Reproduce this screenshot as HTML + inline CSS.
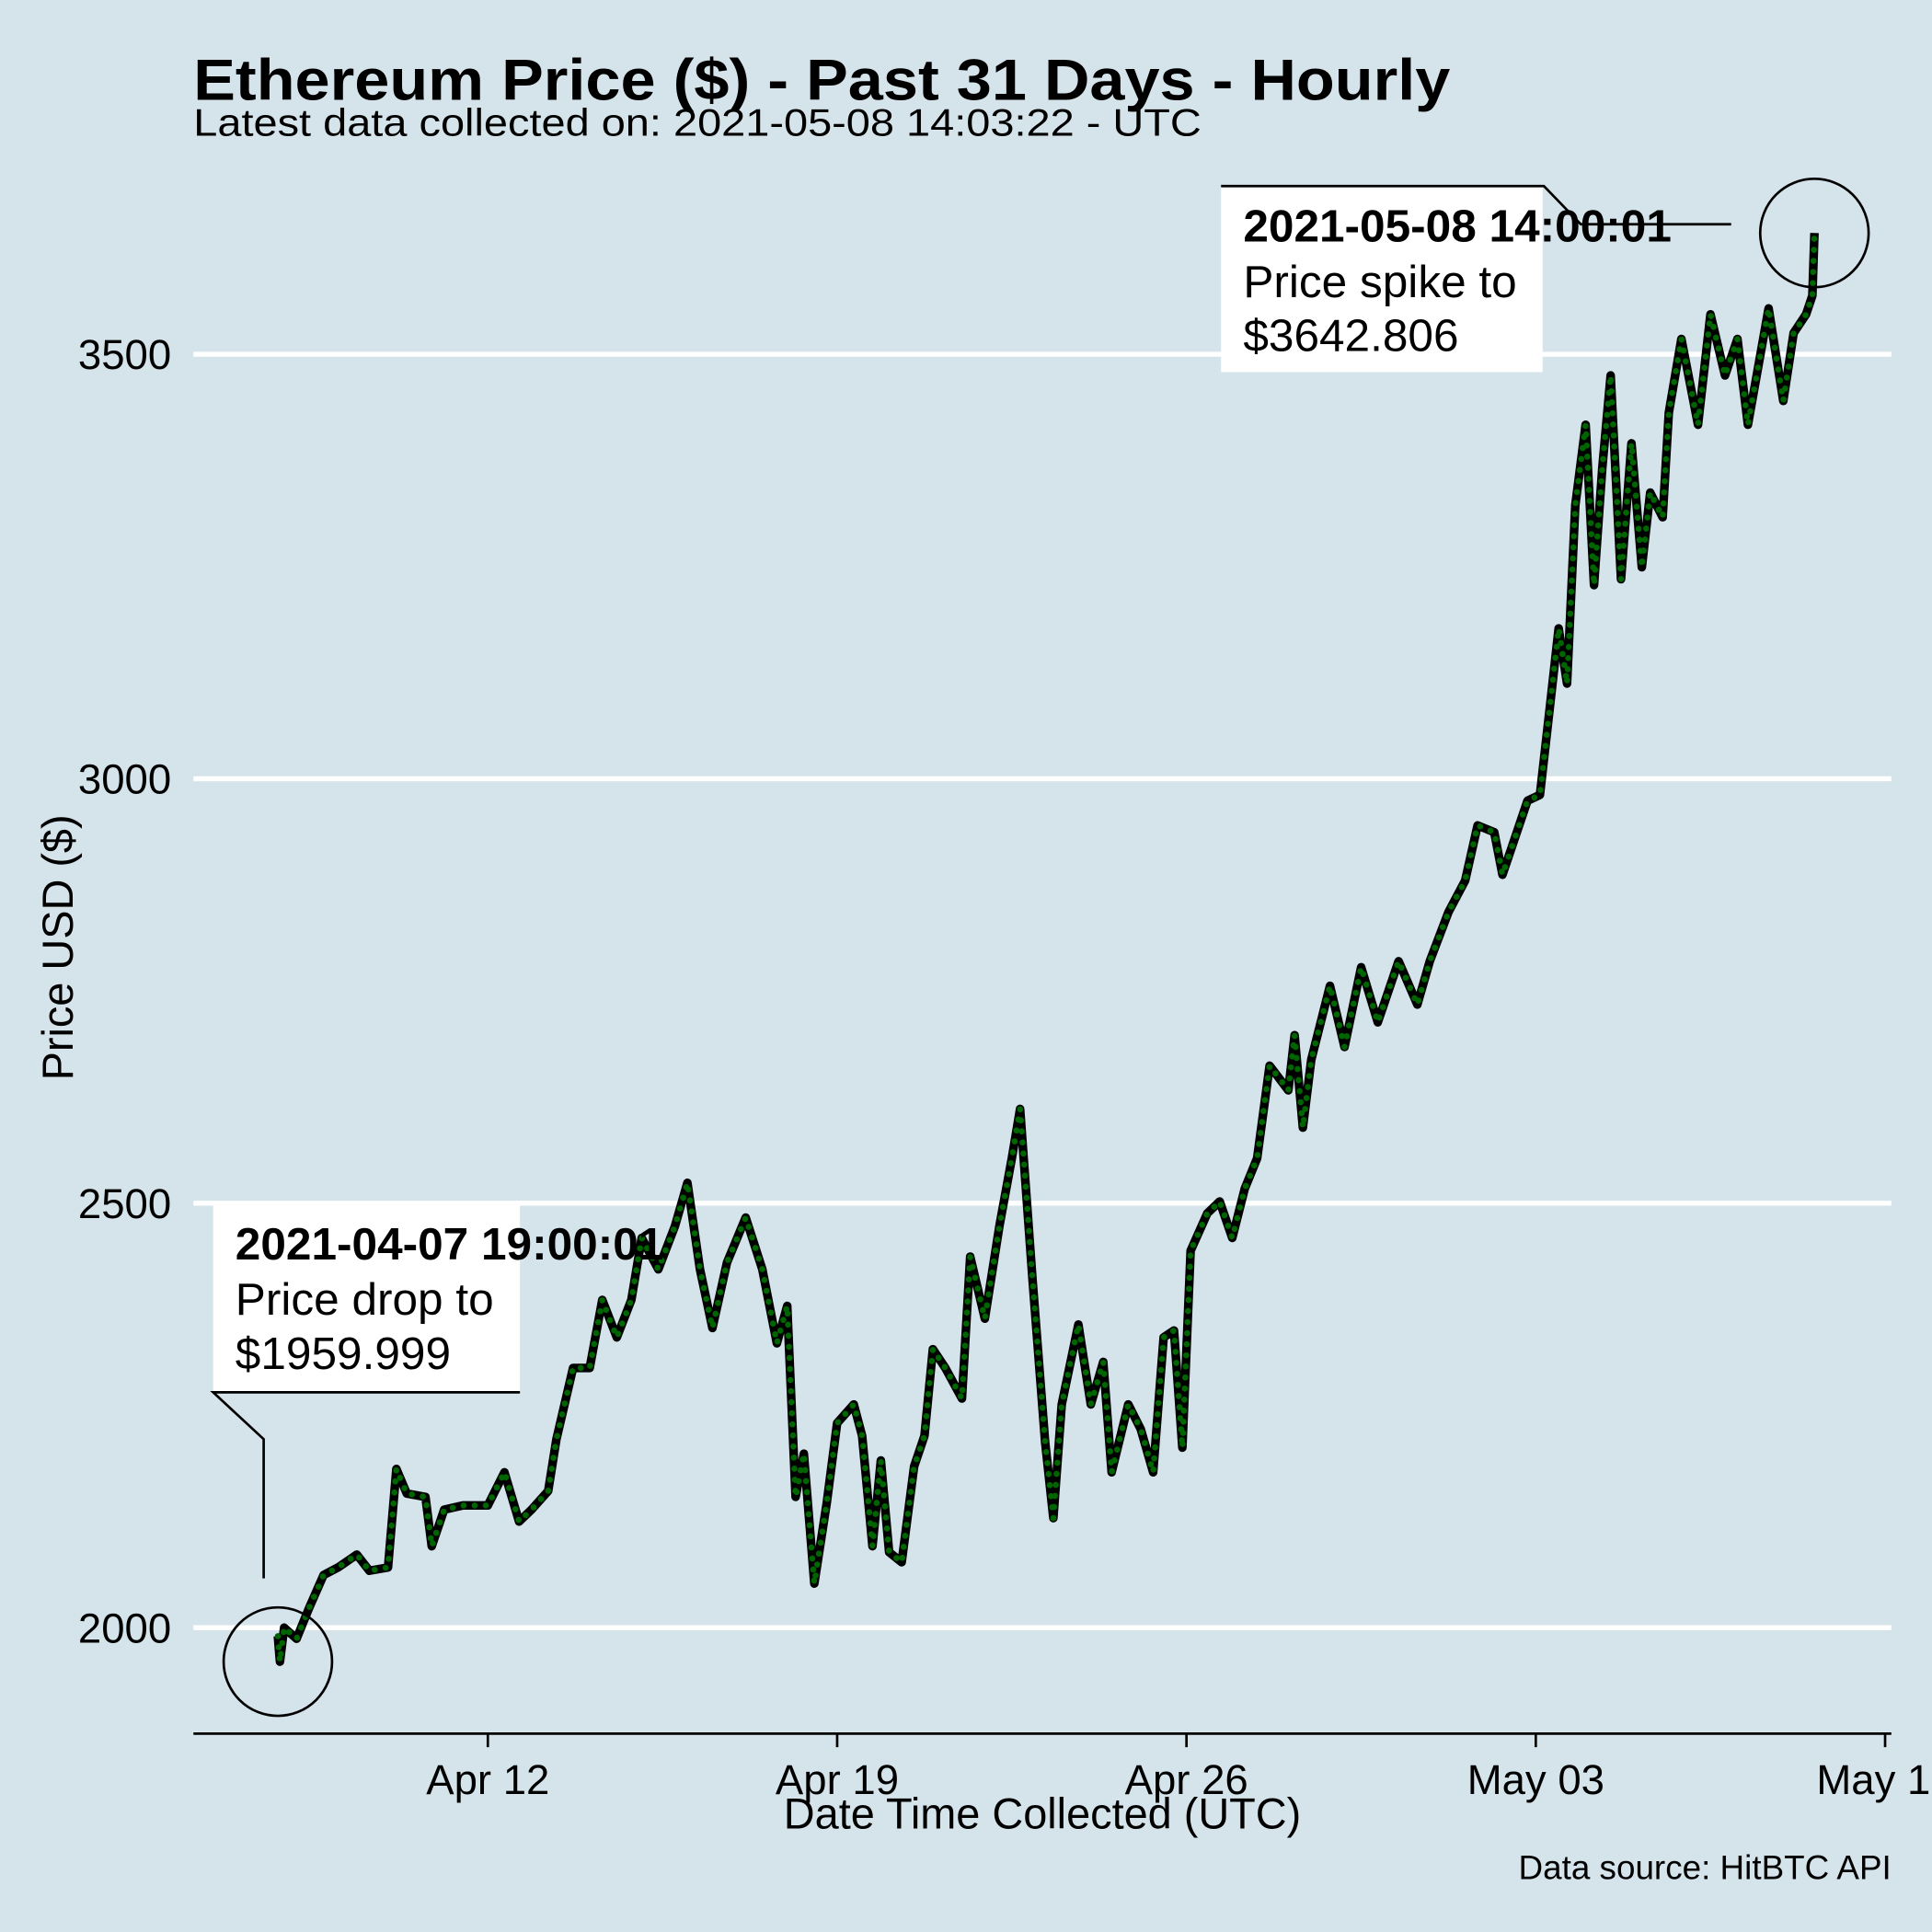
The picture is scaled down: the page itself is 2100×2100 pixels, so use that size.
<!DOCTYPE html>
<html><head><meta charset="utf-8"><style>
html,body{margin:0;padding:0;background:#d5e4eb;}
svg{display:block;}
text{font-family:"Liberation Sans",Arial,sans-serif;fill:#000;}
</style></head><body>
<svg id="chart" width="2100" height="2100" viewBox="0 0 1568 1568" xmlns="http://www.w3.org/2000/svg">
<rect x="0" y="0" width="1568" height="1568" fill="#d5e4eb"/>
<text x="157" y="81" font-size="47" font-weight="bold" textLength="1020" lengthAdjust="spacingAndGlyphs">Ethereum Price ($) - Past 31 Days - Hourly</text>
<text x="157" y="110" font-size="31" textLength="818" lengthAdjust="spacingAndGlyphs">Latest data collected on: 2021-05-08 14:03:22  - UTC</text>
<g id="grid"></g>
<g id="yticks"></g>
<text transform="translate(59,769) rotate(-90)" text-anchor="middle" font-size="35">Price USD ($)</text>
<g id="xaxis"></g>
<text x="846" y="1484" text-anchor="middle" font-size="35">Date Time Collected (UTC)</text>
<text x="1535" y="1525" text-anchor="end" font-size="27.5">Data source: HitBTC API</text>
<g id="series"></g>
<g id="annot"></g>
</svg>
<script>
const hours = [0,1,3,9,15,22,29,38,44,53,57,62,71,74,80,89,101,109,116,122,130,134,142,150,156,163,170,175,183,191,197,203,209,216,225,233,240,245,249,253,258,264,269,277,281,286,290,294,300,306,311,315,321,329,333,340,347,353,357,363,369,373,377,385,391,397,401,409,415,421,426,431,435,439,447,453,459,465,471,477,486,489,493,497,506,513,521,529,539,548,554,563,571,577,585,589,601,607,612,616,620,624,629,633,637,641,646,651,656,660,666,669,675,683,689,696,702,707,717,724,729,735,738,739];
const prices = [1990,1960,2000,1987,2023,2062,2071,2086,2067,2071,2187,2158,2154,2096,2139,2144,2144,2183,2125,2139,2161,2222,2306,2306,2386,2342,2386,2459,2422,2473,2524,2422,2353,2430,2483,2422,2335,2379,2154,2205,2052,2147,2241,2263,2226,2096,2197,2089,2077,2190,2226,2328,2306,2270,2437,2364,2473,2553,2611,2408,2219,2129,2263,2357,2263,2313,2183,2263,2234,2183,2342,2350,2212,2444,2488,2502,2459,2517,2553,2662,2633,2698,2589,2669,2756,2684,2778,2713,2785,2734,2785,2843,2880,2945,2937,2887,2974,2981,3090,3177,3112,3322,3417,3228,3366,3475,3235,3395,3249,3337,3308,3431,3518,3417,3547,3475,3518,3417,3554,3445,3525,3547,3569,3642.806];
const yTicks = [2000,2500,3000,3500];
const xTickLabels = ["Apr 12","Apr 19","Apr 26","May 03","May 10"];
const xTickHours = [101,269,437,605,773];
const lowPoint = {hour:0, price:1959.999};
const highPoint = {hour:739, price:3642.806};

const NS = "http://www.w3.org/2000/svg";
const xs = h => 225.5 + h * (40.5/24);
const ys = p => 1321 - (p - 2000) * 0.689;
function mk(tag, attrs, parent){const e=document.createElementNS(NS,tag);for(const k in attrs)e.setAttribute(k,attrs[k]);parent.appendChild(e);return e;}

const grid=document.getElementById('grid'), yt=document.getElementById('yticks');
yTicks.forEach(v=>{
  const l=mk('line',{x1:157,x2:1535,y1:ys(v),y2:ys(v),stroke:'#fff','stroke-width':4},grid);
  
  
  const t=mk('text',{x:139,y:ys(v)+12,'text-anchor':'end','font-size':34},yt);
  t.textContent=v;
  
  
});
const xa=document.getElementById('xaxis');
const al=mk('line',{x1:157,x2:1535,y1:1407,y2:1407,stroke:'#000','stroke-width':2},xa);


xTickLabels.forEach((lab,i)=>{
  const x=xs(xTickHours[i]);
  const tk=mk('line',{x1:x,x2:x,y1:1407,y2:1418,stroke:'#000','stroke-width':2},xa);
  
  
  const t=mk('text',{x:x,y:1456,'text-anchor':'middle','font-size':34},xa);
  t.textContent=lab;
  
  
});
const ser=document.getElementById('series');
const d=hours.map((h,i)=>(i?'L':'M')+xs(h).toFixed(1)+','+ys(prices[i]).toFixed(1)).join(' ');
const pl=mk('path',{d:d,fill:'none',stroke:'#000','stroke-width':7,'stroke-linejoin':'round'},ser);


const pd=mk('path',{d:d,fill:'none',stroke:'#006400','stroke-width':5,'stroke-linecap':'round','stroke-dasharray':'0 9'},ser);



const an=document.getElementById('annot');
[lowPoint,highPoint].forEach((p,i)=>{
  const c=mk('circle',{cx:xs(p.hour),cy:ys(p.price),r:44,fill:'none',stroke:'#000','stroke-width':2},an);
  
  
});
</script>
<svg style="position:absolute;left:0;top:0" width="2100" height="2100" viewBox="0 0 1568 1568">
<g>
<rect x="173" y="977" width="249" height="153" fill="#fff"/>
<polyline points="422,1130 173,1130 214,1168 214,1281" fill="none" stroke="#000" stroke-width="2"/>
<text x="191" y="1022" font-size="37" font-weight="bold">2021-04-07 19:00:01</text>
<text x="191" y="1067" font-size="37">Price drop to</text>
<text x="191" y="1111" font-size="37">$1959.999</text>
</g>
<g>
<rect x="991" y="151" width="261" height="151" fill="#fff"/>
<polyline points="991,151 1253,151 1283,182 1405,182" fill="none" stroke="#000" stroke-width="2"/>
<text x="1009" y="196" font-size="37" font-weight="bold">2021-05-08 14:00:01</text>
<text x="1009" y="241" font-size="37">Price spike to</text>
<text x="1009" y="285" font-size="37">$3642.806</text>
</g>
</svg>
</body></html>
